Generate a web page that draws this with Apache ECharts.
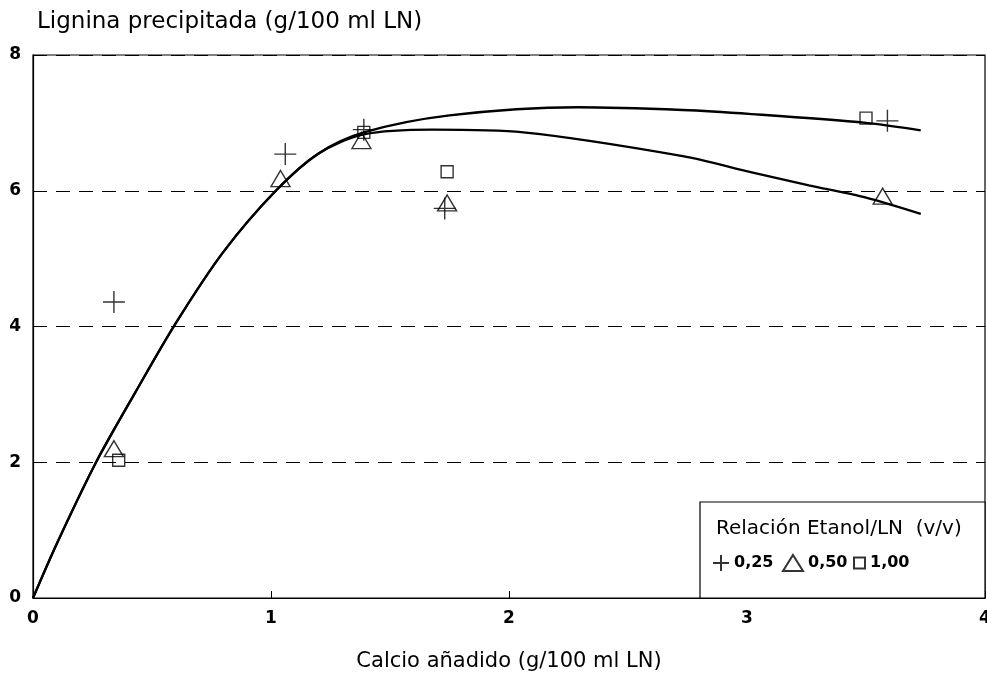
<!DOCTYPE html>
<html>
<head>
<meta charset="utf-8">
<script src="https://cdn.jsdelivr.net/npm/echarts@6/dist/echarts.min.js"></script>
<style>html,body{margin:0;padding:0;background:#fff}#c{width:987px;height:675px}</style>
</head>
<body>
<div id="c"></div>
<script>
// Data
var xTicks = [0, 1, 2, 3, 4];
var yTicks = [0, 2, 4, 6, 8];
var seriesNames = ['0,25', '0,50', '1,00'];
var pts025 = [[0.34, 4.36], [1.06, 6.54], [1.39, 6.9], [1.73, 5.74], [3.59, 7.03]];
var pts050 = [[0.34, 2.2], [1.04, 6.18], [1.38, 6.74], [1.74, 5.82], [3.57, 5.92]];
var pts100 = [[0.36, 2.03], [1.39, 6.86], [1.74, 6.28], [3.5, 7.07]];
var curveUpper = [[0, 0], [0.1, 0.8], [0.265, 2.0], [0.43, 3.03], [0.6, 4.05], [0.8, 5.1], [1.02, 6.0], [1.2, 6.55], [1.39, 6.86], [1.75, 7.11], [2.29, 7.23], [2.73, 7.19], [3.02, 7.13], [3.5, 7.0], [3.73, 6.89]];
var curveLower = [[0, 0], [0.1, 0.8], [0.265, 2.0], [0.43, 3.03], [0.6, 4.05], [0.8, 5.1], [1.02, 6.0], [1.2, 6.55], [1.39, 6.83], [1.68, 6.9], [2.06, 6.86], [2.73, 6.51], [3.02, 6.27], [3.26, 6.08], [3.5, 5.9], [3.73, 5.66]];
var yTitle = 'Lignina precipitada (g/100 ml LN)';
var xTitle = 'Calcio añadido (g/100 ml LN)';
var legendTitle = 'Relación Etanol/LN  (v/v)';

var FONT = '"DejaVu Sans", "Liberation Sans", Arial, sans-serif';
var plusPath = 'path://M0,10L20,10M10,0L10,20';
var chart = echarts.init(document.getElementById('c'));
var mk = {color: 'rgba(0,0,0,0)', borderColor: '#000', borderWidth: 1.4};
var legTxt = {fontFamily: FONT, fontSize: 16, fontWeight: 'bold', color: '#000', lineHeight: 20};
function leg(name, left, w, h) {
  return {data: [name], left: left, top: 553, padding: 0, itemWidth: w, itemHeight: h,
    selectedMode: false, textStyle: legTxt, z: 10};
}
chart.setOption({
  animation: false,
  backgroundColor: '#fff',
  textStyle: {fontFamily: FONT, color: '#000'},
  title: {text: yTitle, left: 32, top: 6, textStyle: {fontFamily: FONT, fontSize: 23, fontWeight: 'normal', color: '#000'}},
  grid: {left: 33, right: 2, top: 55, bottom: 77, show: true, borderColor: '#000', borderWidth: 1.2,
    backgroundColor: 'transparent', outerBoundsMode: 'none', containLabel: false},
  xAxis: {
    type: 'value', min: xTicks[0], max: xTicks[xTicks.length - 1], interval: 1,
    name: xTitle, nameLocation: 'middle', nameGap: 53,
    nameTextStyle: {fontFamily: FONT, fontSize: 21, color: '#000'},
    axisLine: {lineStyle: {color: '#000', width: 1.2}},
    axisTick: {inside: true, length: 7, lineStyle: {color: '#000'}},
    axisLabel: {fontFamily: FONT, fontSize: 17, fontWeight: 'bold', color: '#000', margin: 12},
    splitLine: {show: false}
  },
  yAxis: {
    type: 'value', min: yTicks[0], max: yTicks[yTicks.length - 1], interval: 2,
    axisLine: {show: true, lineStyle: {color: '#000', width: 1.2}},
    axisTick: {show: false},
    axisLabel: {fontFamily: FONT, fontSize: 17, fontWeight: 'bold', color: '#000', margin: 12},
    splitLine: {show: true, lineStyle: {color: '#000', type: [14, 9], width: 1}}
  },
  legend: [
    leg(seriesNames[0], 712, 16, 16),
    leg(seriesNames[1], 782, 20, 16),
    leg(seriesNames[2], 853, 11, 11)
  ],
  graphic: [
    {type: 'rect', shape: {x: 700, y: 502, width: 285, height: 96}, style: {fill: '#fff', stroke: '#000', lineWidth: 1.2}, z: 1},
    {type: 'text', x: 716, y: 529, style: {text: legendTitle, fontFamily: FONT, fontSize: 20, fill: '#000', verticalAlign: 'middle'}, z: 2}
  ],
  series: [
    {type: 'line', data: curveUpper, smooth: 0.3, showSymbol: false, symbol: 'none', lineStyle: {color: '#000', width: 2.3}, z: 2},
    {type: 'line', data: curveLower, smooth: 0.3, showSymbol: false, symbol: 'none', lineStyle: {color: '#000', width: 2.3}, z: 2},
    {name: seriesNames[0], type: 'scatter', data: pts025, symbol: plusPath, symbolSize: 22, itemStyle: mk, z: 3},
    {name: seriesNames[1], type: 'scatter', data: pts050, symbol: 'triangle', symbolSize: [19, 16], itemStyle: mk, z: 3},
    {name: seriesNames[2], type: 'scatter', data: pts100, symbol: 'rect', symbolSize: 12, itemStyle: mk, z: 3}
  ]
});
</script>
</body>
</html>
